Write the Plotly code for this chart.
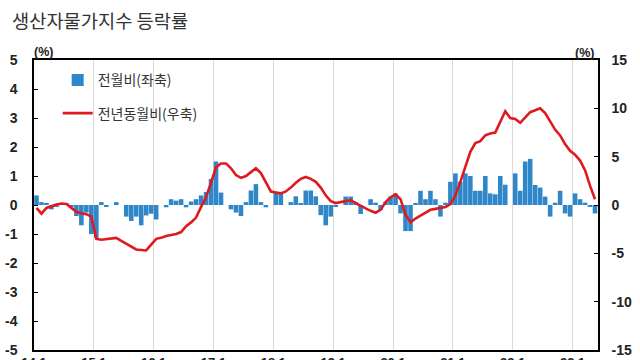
import plotly.graph_objects as go

# Monthly data, Jan 2014 .. May 2023
mom_2014 = [0.33, 0.10, 0.05, -0.15, -0.05, 0.05, 0.05, -0.05, -0.38, -0.70, -0.26, -1.00]
mom_2015 = [-1.13, 0.10, -0.07, 0.00, 0.10, 0.00, -0.40, -0.55, -0.40, -0.70, -0.36, -0.30]
mom_2016 = [-0.50, 0.00, -0.08, 0.20, 0.15, 0.20, -0.08, 0.12, 0.20, 0.33, 0.45, 0.90]
mom_2017 = [1.50, 0.43, 0.00, -0.15, -0.26, -0.38, 0.10, 0.50, 0.72, 0.10, -0.08, 0.00]
mom_2018 = [0.45, 0.45, 0.00, 0.10, 0.30, 0.05, 0.50, 0.50, 0.30, -0.35, -0.70, -0.40]
mom_2019 = [-0.06, 0.00, 0.29, 0.29, 0.11, -0.31, 0.00, 0.20, 0.08, -0.17, 0.11, 0.29]
mom_2020 = [0.40, -0.29, -0.90, -0.90, 0.05, 0.49, 0.20, 0.49, 0.20, -0.40, 0.08, 0.80]
mom_2021 = [1.09, 0.80, 1.09, 1.00, 0.49, 0.49, 1.00, 0.40, 0.37, 1.00, 0.70, 0.00]
mom_2022 = [1.09, 0.49, 1.50, 1.59, 0.69, 0.60, 0.29, -0.40, 0.08, 0.49, -0.29, -0.40]
mom_2023 = [0.40, 0.20, 0.08, -0.06, -0.29]

yoy_2014 = [-0.3, -0.9, -0.3, -0.1, 0.05, 0.15, 0.1, -0.3, -0.7, -0.85, -0.95, -1.2]
yoy_2015 = [-3.5, -3.6, -3.55, -3.5, -3.4, -3.7, -4.0, -4.3, -4.6, -4.65, -4.7, -4.1]
yoy_2016 = [-3.5, -3.4, -3.2, -3.1, -3.0, -2.8, -2.2, -1.8, -1.3, -0.2, 0.8, 2.3]
yoy_2017 = [3.9, 4.3, 4.3, 3.8, 3.1, 2.8, 3.0, 3.4, 3.8, 3.3, 2.3, 1.4]
yoy_2018 = [1.3, 1.2, 1.4, 1.8, 2.3, 2.7, 2.9, 2.7, 2.4, 1.8, 1.0, 0.4]
yoy_2019 = [0.2, 0.3, 0.45, 0.5, 0.2, -0.1, -0.35, -0.6, -0.8, -0.5, 0.3, 0.8]
yoy_2020 = [1.1, 0.6, -1.0, -1.8, -1.4, -1.1, -0.8, -0.5, -0.4, -0.3, -0.2, 0.1]
yoy_2021 = [1.0, 2.4, 3.9, 5.5, 6.4, 6.6, 7.2, 7.4, 7.5, 8.6, 9.7, 9.0]
yoy_2022 = [8.9, 8.5, 9.1, 9.6, 9.8, 10.0, 9.5, 8.6, 7.8, 7.2, 6.3, 5.6]
yoy_2023 = [5.2, 4.6, 3.6, 2.0, 0.6]

years = ["14", "15", "16", "17", "18", "19", "20", "21", "22", "23"]
year_tick_labels = [y + ".1" for y in years]

mom = (mom_2014 + mom_2015 + mom_2016 + mom_2017 + mom_2018 +
       mom_2019 + mom_2020 + mom_2021 + mom_2022 + mom_2023)
yoy = (yoy_2014 + yoy_2015 + yoy_2016 + yoy_2017 + yoy_2018 +
       yoy_2019 + yoy_2020 + yoy_2021 + yoy_2022 + yoy_2023)
months = list(range(len(mom)))
year_bounds = [12 * k - 0.5 for k in range(len(years))]

left_ticks = list(range(-5, 6))
right_ticks = list(range(-15, 16, 5))

BLUE = "#2f87c9"
RED = "#df1a1f"
FONT = "Liberation Sans, Arial, sans-serif"
KFONT = "Noto Sans CJK KR, sans-serif"

fig = go.Figure()
fig.add_trace(go.Bar(
    x=months, y=mom, name="전월비(좌축)", marker=dict(color=BLUE, line=dict(width=0)),
    yaxis="y", legendgroup="a", width=0.92,
))
fig.add_trace(go.Scatter(
    x=months, y=yoy, name="전년동월비(우축)", mode="lines",
    line=dict(color=RED, width=2.6), yaxis="y2", legendgroup="b",
))

fig.update_layout(
    width=640, height=360,
    margin=dict(l=34, r=42, t=60, b=10, autoexpand=False),
    paper_bgcolor="white", plot_bgcolor="white",
    showlegend=True,
    legend=dict(x=0.042, y=0.985, xanchor="left", yanchor="top",
                font=dict(family=KFONT, size=14, color="#333333"),
                bgcolor="rgba(0,0,0,0)", traceorder="grouped", tracegroupgap=12),
    xaxis=dict(range=[-0.5, 112.6], tickvals=year_bounds, ticktext=year_tick_labels,
               showgrid=True, gridcolor="#d9d9d9", gridwidth=1, zeroline=False,
               showline=True, linecolor="black", linewidth=1.5, mirror=True, automargin=False,
               ticks="", tickfont=dict(family=FONT, size=13, color="#222", weight="bold")),
    yaxis=dict(range=[-5, 5], tickvals=left_ticks, ticktext=[str(v) for v in left_ticks],
               showgrid=False, zeroline=False, showline=True, linecolor="black", linewidth=1.5,
               ticks="inside", ticklen=4, tickcolor="black", ticklabelstandoff=12, automargin=False,
               tickfont=dict(family=FONT, size=14, color="#222", weight="bold")),
    yaxis2=dict(range=[-15, 15], tickvals=right_ticks, ticktext=[str(v) for v in right_ticks],
                overlaying="y", side="right", showgrid=False, zeroline=False,
                showline=True, linecolor="black", linewidth=1.5, automargin=False,
                ticks="inside", ticklen=4, tickcolor="black", ticklabelstandoff=9,
                tickfont=dict(family=FONT, size=14, color="#222", weight="bold")),
    annotations=[
        dict(text="생산자물가지수 등락률", xref="paper", yref="paper", x=-0.043, y=1.138,
             xanchor="left", yanchor="middle", showarrow=False,
             font=dict(family=KFONT, size=18.7, color="#333333")),
        dict(text="(%)", xref="paper", yref="paper", x=-0.004, y=1.026,
             xanchor="left", yanchor="middle", showarrow=False,
             font=dict(family=FONT, size=12.5, color="#222", weight="bold")),
        dict(text="(%)", xref="paper", yref="paper", x=0.997, y=1.025,
             xanchor="right", yanchor="middle", showarrow=False,
             font=dict(family=FONT, size=12.5, color="#222", weight="bold")),
    ],
)

fig.write_html("out.html", config={"displayModeBar": False},
               post_script="document.body.style.margin='0';")
